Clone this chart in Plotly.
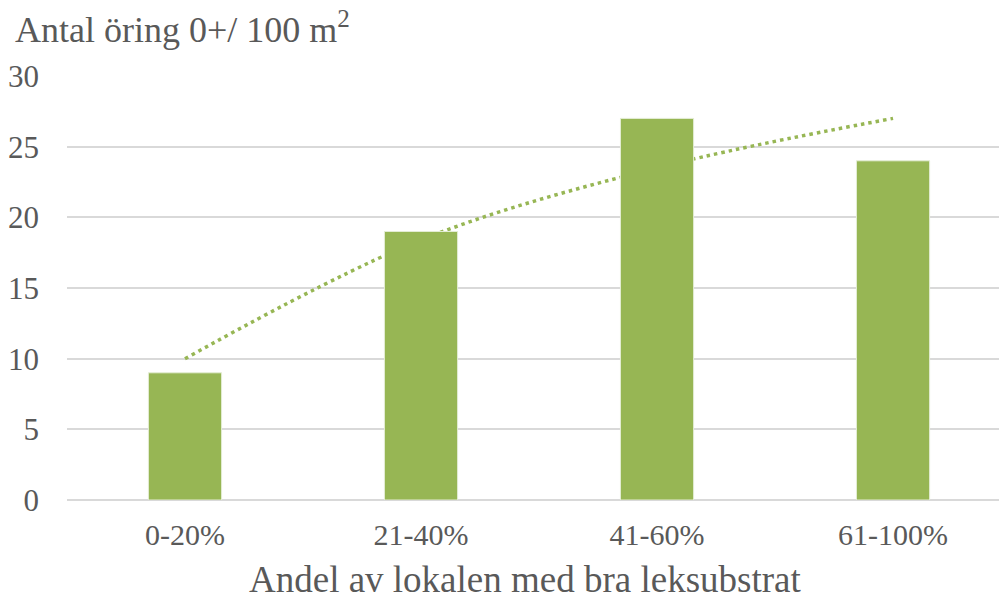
import plotly.graph_objects as go

categories = ['0-20%', '21-40%', '41-60%', '61-100%']
antal = [9, 19, 27, 24]
trend = [10.0, 18.4, 23.5, 27.0]  # trendline

GREEN = '#97B654'
GREY = '#595959'
FONT = 'Liberation Serif'

fig = go.Figure()

# trendline sits behind the bars
fig.add_trace(go.Scatter(
    x=categories, y=trend, mode='lines',
    line=dict(color=GREEN, width=3.5, dash='3.5px,4px', shape='spline'),
    zorder=0, showlegend=False, hoverinfo='skip'
))

fig.add_trace(go.Bar(
    x=categories, y=antal, width=0.31,
    marker=dict(color=GREEN, line=dict(color='#E4EDD5', width=1)),
    zorder=1, showlegend=False
))

fig.update_layout(
    width=999, height=599,
    margin=dict(l=67, r=0, t=76, b=99),
    paper_bgcolor='white', plot_bgcolor='white',
    font=dict(family=FONT, color=GREY, size=30),
    xaxis=dict(
        range=[-0.5, 3.449], showgrid=False, zeroline=False,
        ticks='', ticklabelstandoff=14,
        tickfont=dict(family=FONT, size=30, color=GREY),
    ),
    yaxis=dict(
        range=[0, 30], dtick=5, showgrid=True, gridcolor='#D9D9D9', gridwidth=1.5,
        zeroline=True, zerolinecolor='#D9D9D9', zerolinewidth=1.5,
        ticks='', ticklabelstandoff=27,
        tickfont=dict(family=FONT, size=31, color=GREY),
    ),
    annotations=[
        dict(text='Antal öring 0+/ 100 m<sup>2</sup>', xref='paper', yref='paper',
             x=-54 / 932, y=1 + 49 / 424, xanchor='left', yanchor='middle',
             showarrow=False, font=dict(family=FONT, size=36, color=GREY)),
        dict(text='Andel av lokalen med bra leksubstrat', xref='paper', yref='paper',
             x=(525 - 67) / 932, y=-79 / 424, xanchor='center', yanchor='middle',
             showarrow=False, font=dict(family=FONT, size=37, color=GREY)),
    ],
)

fig.write_html('out.html', config={'displayModeBar': False},
               post_script="document.body.style.margin='0';")
